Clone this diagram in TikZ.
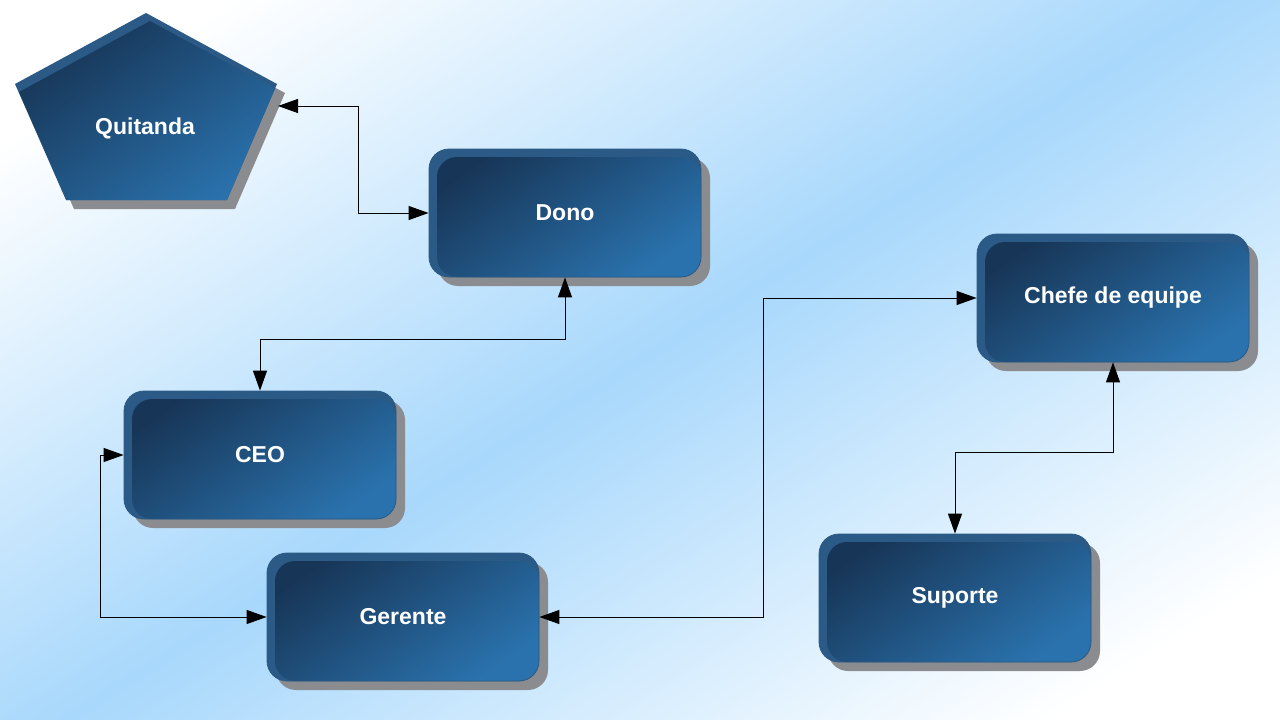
\documentclass[tikz,border=0pt]{standalone}
\usepackage{fontspec}
\setmainfont{Liberation Sans}
\usepackage{tikz}
\usetikzlibrary{arrows.meta, calc, shadows}
\definecolor{bgblue}{HTML}{A8D8FC}
\definecolor{boxdark}{HTML}{173556}
\definecolor{boxlight}{HTML}{2A72AD}
\definecolor{bevelblue}{HTML}{2A5A85}
\definecolor{shadowgray}{HTML}{8A8C8F}
\pgfdeclarehorizontalshading{bgfade}{100bp}{color(0bp)=(white); color(22bp)=(white);
  color(50bp)=(bgblue); color(78bp)=(white); color(100bp)=(white)}
\tikzset{
  boxshade/.style={top color=boxdark, bottom color=boxlight, shading angle=35},
  orgbox/.style={rectangle, rounded corners=20pt, minimum width=272pt, minimum height=128pt,
    fill=bevelblue, draw=bevelblue, line width=0.8pt, text=white,
    font=\fontsize{23}{27}\selectfont\bfseries,
    drop shadow={shadow xshift=9pt, shadow yshift=-9pt, fill=shadowgray, opacity=1},
    path picture={\shade[boxshade, rounded corners=20pt]
      ($(path picture bounding box.north west)+(8,8)$) rectangle (path picture bounding box.south east);}},
  boxtext/.style={text=white, font=\fontsize{23}{27}\selectfont\bfseries},
  conn/.style={draw=black, line width=1pt,
    {Triangle[length=20pt,width=14pt]}-{Triangle[length=20pt,width=14pt]}}
}
\newcommand\quitandashape[1]{\path[#1] (146,13) -- (277,84) -- (227,200) -- (66,200) -- (15,84) -- cycle;}

\begin{document}
\begin{tikzpicture}[x=1pt, y=-1pt]
      % Background
      \useasboundingbox (0,0) rectangle (1280,720);
      \shade[shading=bgfade, shading angle=-58] (0,0) rectangle (1280,720);

      % Pentagon
      \quitandashape{fill=shadowgray, shift={(8,9)}}
      \quitandashape{fill=bevelblue}
      \begin{scope}
        \quitandashape{clip}
        \quitandashape{boxshade, shift={(4,8)}}
      \end{scope}
      \node[boxtext] (quitanda) at (145,128) {Quitanda};
      \coordinate (qright) at (278,106);

      % Boxes
      \node[orgbox] (dono) at (565,213) {Dono};
      \node[orgbox] (chefe) at (1113,298) {Chefe de equipe};
      \node[orgbox] (ceo) at (260,455) {CEO};
      \node[orgbox] (gerente) at (403,617) {Gerente};
      \node[orgbox] (suporte) at (955,598) {Suporte};

      % Connectors
      \draw[conn] (qright) -- ++(80,0) |- (dono.west);
      \draw[conn] (dono.south) -- ++(0,62) -| (ceo.north);
      \draw[conn] (ceo.west) -- ++(-23,0) |- (gerente.west);
      \draw[conn] (gerente.east) -- ++(224,0) |- (chefe.west);
      \draw[conn] (chefe.south) -- ++(0,90) -| (suporte.north);
    \end{tikzpicture}
\end{document}
